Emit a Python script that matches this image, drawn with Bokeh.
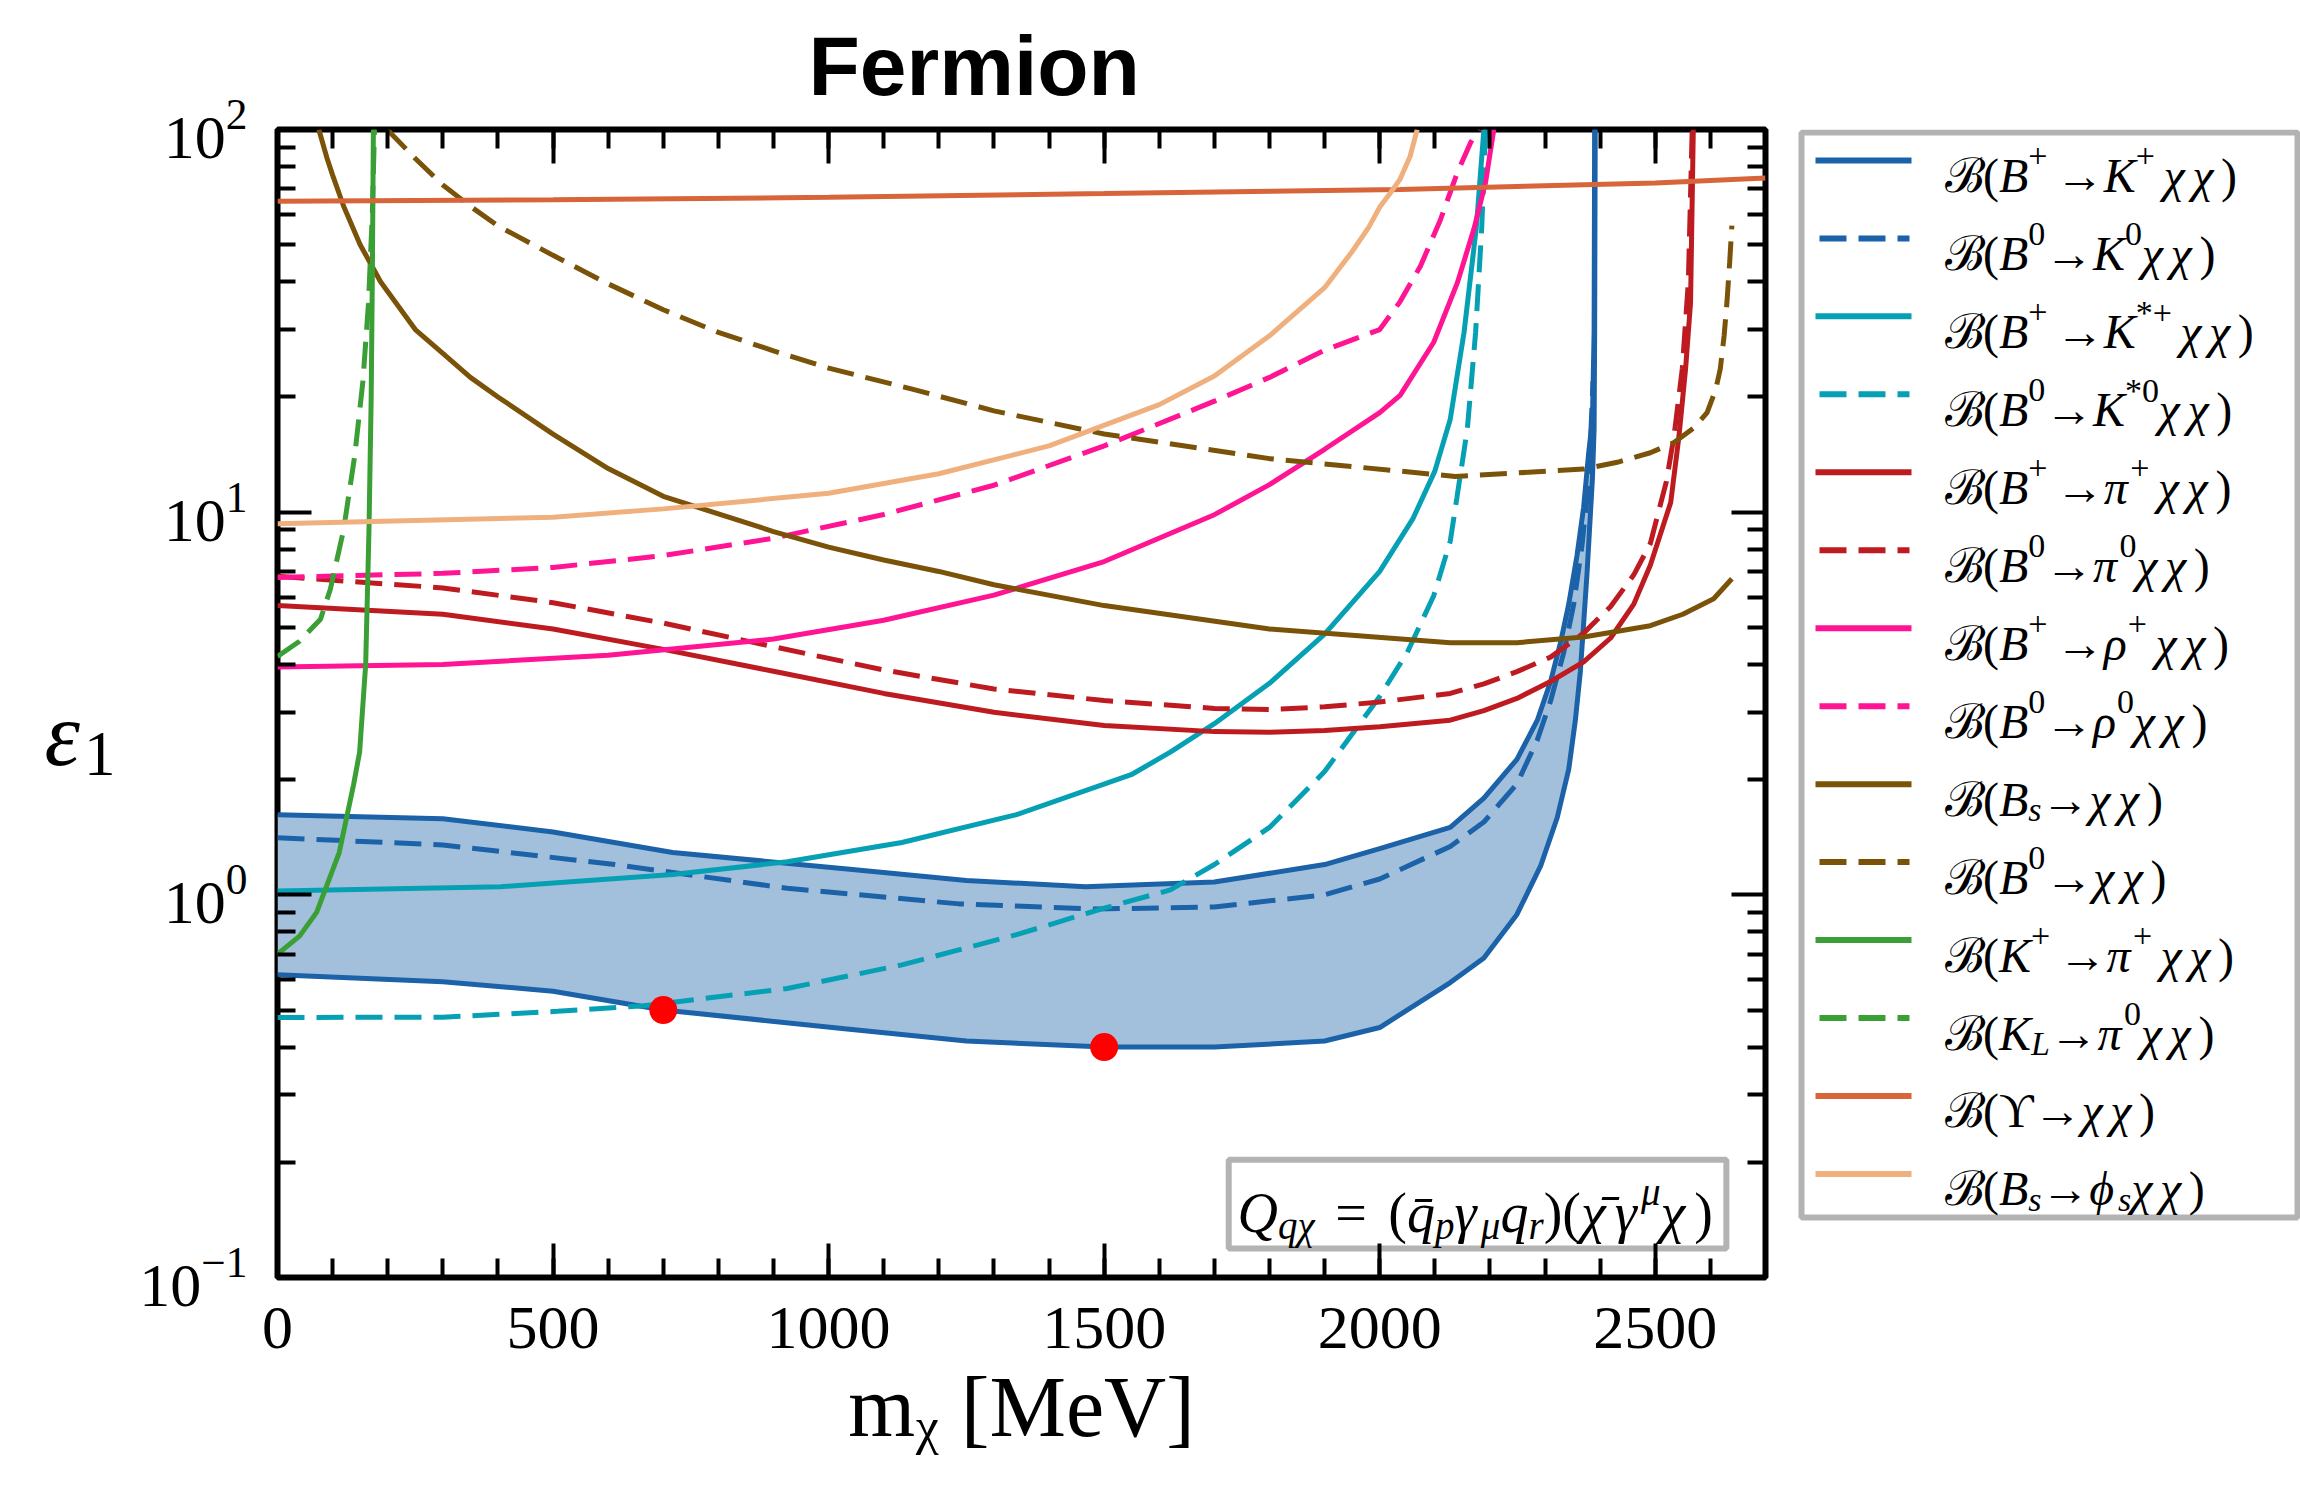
from bokeh.plotting import figure
from bokeh.models import (Range1d, FixedTicker, LinearAxis, LogAxis, ColumnDataSource)
from bokeh.layouts import row
from bokeh.embed import file_html
from bokeh.resources import INLINE
from bokeh.core.properties import value

# ---------------------------------------------------------------- data
# m_chi [MeV] vs epsilon_1 for each decay channel

# B+ -> K+ chi chi : allowed band (upper / lower edge)
bk_up_x = [0, 300, 500, 717, 1029, 1250, 1466, 1700, 1900, 2000, 2128, 2189, 2249, 2286, 2310,
           2328, 2343, 2358, 2370, 2379, 2386, 2389, 2390]
bk_up_y = [1.62, 1.58, 1.46, 1.29, 1.17, 1.09, 1.05, 1.08, 1.2, 1.32, 1.50, 1.79, 2.26, 2.86,
           3.61, 4.56, 5.75, 7.71, 10.3, 14.2, 17.5, 29.5, 100]
bk_lo_x = [0, 300, 500, 700, 1029, 1250, 1500, 1700, 1900, 2000, 2128, 2189, 2249, 2292, 2322,
           2343, 2355, 2364, 2370, 2376, 2381, 2386, 2389, 2390, 2391]
bk_lo_y = [0.618, 0.593, 0.56, 0.50, 0.447, 0.415, 0.40, 0.40, 0.415, 0.45, 0.59, 0.684, 0.889,
           1.19, 1.59, 2.13, 2.86, 3.83, 5.12, 6.86, 9.18, 12.3, 16.5, 29.5, 100]

# B0 -> K0 chi chi
bk0_x = [0, 300, 612, 925, 1237, 1484, 1700, 1900, 2000, 2128, 2189, 2249, 2286, 2310, 2334,
         2352, 2367, 2376, 2382, 2387]
bk0_y = [1.41, 1.35, 1.2, 1.04, 0.947, 0.918, 0.93, 1.0, 1.1, 1.338, 1.55, 1.95, 2.54, 3.21,
         4.3, 5.75, 8.17, 10.9, 14.7, 22]

# B+ -> K*+ chi chi
bks_x = [0, 405, 717, 925, 1133, 1341, 1549, 1620, 1700, 1800, 1900, 2000, 2060, 2100, 2128,
         2153, 2175, 2189]
bks_y = [1.024, 1.05, 1.13, 1.22, 1.37, 1.62, 2.06, 2.36, 2.8, 3.57, 4.8, 7.0, 9.6, 12.8, 17.5,
         29.5, 55, 100]

# B0 -> K*0 chi chi
bks0_x = [0, 300, 508, 664, 925, 1133, 1341, 1497, 1620, 1700, 1800, 1900, 2000, 2050, 2098,
          2128, 2140, 2159, 2174, 2185, 2192]
bks0_y = [0.478, 0.479, 0.496, 0.513, 0.569, 0.656, 0.787, 0.92, 1.03, 1.2, 1.5, 2.1, 3.3, 4.3,
          6.05, 8.4, 10.9, 16.5, 29.5, 55, 100]

# B+ -> pi+ chi chi
bpi_x = [0, 300, 500, 700, 900, 1100, 1300, 1500, 1700, 1800, 1900, 2000, 2128, 2189, 2249,
         2310, 2370, 2419, 2461, 2491, 2528, 2543, 2555, 2564, 2569]
bpi_y = [5.7, 5.41, 4.95, 4.38, 3.84, 3.36, 3.0, 2.77, 2.67, 2.66, 2.69, 2.75, 2.86, 3.03, 3.26,
         3.61, 4.06, 4.69, 5.75, 7.27, 10.6, 15.8, 23.7, 35.3, 100]

# B0 -> pi0 chi chi
bpi0_x = [0, 300, 500, 700, 900, 1100, 1300, 1500, 1700, 1800, 1900, 2000, 2128, 2189, 2249,
          2310, 2370, 2419, 2461, 2491, 2520, 2534, 2549, 2560, 2567]
bpi0_y = [6.8, 6.34, 5.8, 5.13, 4.45, 3.87, 3.45, 3.22, 3.07, 3.05, 3.1, 3.19, 3.36, 3.56, 3.83,
          4.18, 4.83, 5.67, 6.86, 8.28, 12, 15.8, 23.7, 40, 100]

# B+ -> rho+ chi chi
brho_x = [0, 300, 600, 900, 1100, 1300, 1500, 1700, 1800, 1900, 2000, 2037, 2098, 2141, 2171,
          2192, 2207]
brho_y = [3.94, 4.0, 4.23, 4.66, 5.22, 6.07, 7.43, 9.85, 11.8, 14.6, 18.2, 20.2, 27.8, 39.8, 55,
          72.7, 100]

# B0 -> rho0 chi chi
brho0_x = [0, 300, 500, 700, 900, 1100, 1300, 1500, 1700, 1800, 1900, 2000, 2037, 2074, 2110,
           2141, 2165, 2180]
brho0_y = [6.75, 6.92, 7.17, 7.7, 8.55, 9.86, 11.76, 14.9, 19.5, 22.5, 26.5, 30, 35.5, 44, 58,
           77.3, 92.5, 100]

# Bs -> chi chi
bs_x = [75, 90, 100, 120, 150, 187, 250, 300, 350, 400, 500, 600, 700, 800, 900, 1000, 1100,
        1200, 1300, 1500, 1800, 2128, 2249, 2370, 2491, 2550, 2606, 2639]
bs_y = [100, 84, 76, 63, 50, 40, 30, 26, 22.5, 20, 16, 13, 11, 9.9, 8.9, 8.1, 7.5, 7.0, 6.46,
        5.7, 4.95, 4.56, 4.56, 4.72, 5.05, 5.41, 5.94, 6.7]

# B0 -> chi chi
b0_x = [199, 250, 300, 350, 400, 500, 600, 700, 800, 900, 1000, 1150, 1300, 1500, 1800, 2137,
        2370, 2431, 2491, 2534, 2570, 2594, 2610, 2618, 2625, 2630, 2635, 2639]
b0_y = [100, 84, 71.6, 63, 56, 46.9, 39.5, 33.8, 29.5, 26.4, 23.8, 21, 18.4, 16, 13.8, 12.4,
        12.96, 13.5, 14.3, 15.2, 16.6, 18.2, 21, 23.7, 29, 35.3, 45, 56.1]

# K+ -> pi+ chi chi
kpi_x = [0, 40, 71, 112, 138, 149, 160, 166, 170, 172, 174]
kpi_y = [0.70, 0.78, 0.90, 1.29, 1.94, 2.36, 4.0, 9.0, 20, 40, 100]

# KL -> pi0 chi chi
klpi_x = [0, 40, 78, 96, 120, 140, 155, 165, 172, 176]
klpi_y = [4.2, 4.6, 5.25, 6.3, 9, 14, 22, 35, 60, 100]

# Upsilon -> chi chi
ups_x = [0, 500, 1000, 1500, 2037, 2500, 2700]
ups_y = [64.9, 65.5, 66.5, 68, 69.7, 72.5, 74.7]

# Bs -> phi_s chi chi
bsphi_x = [0, 500, 700, 1000, 1200, 1400, 1600, 1700, 1800, 1900, 1950, 1980, 2000, 2020, 2037,
           2055, 2068]
bsphi_y = [9.32, 9.7, 10.2, 11.2, 12.6, 14.9, 19.1, 22.7, 28.9, 38.6, 48, 55.5, 62.7, 68.5, 74.2,
           85, 100]

# benchmark points
bench_x = [700, 1500]
bench_y = [0.5, 0.4]

x_major = [0, 500, 1000, 1500, 2000, 2500]
x_minor = list(range(0, 2701, 100))
y_major = [0.1, 1, 10, 100]
y_minor = [m * d for d in (0.1, 1, 10) for m in range(2, 10)]

legend_labels = [
    "ℬ(B^{+}→K^{+}χχ)", "ℬ(B^{0}→K^{0}χχ)", "ℬ(B^{+}→K^{*+}χχ)", "ℬ(B^{0}→K^{*0}χχ)",
    "ℬ(B^{+}→π^{+}χχ)", "ℬ(B^{0}→π^{0}χχ)", "ℬ(B^{+}→ρ^{+}χχ)", "ℬ(B^{0}→ρ^{0}χχ)",
    "ℬ(B_{s}→χχ)", "ℬ(B^{0}→χχ)", "ℬ(K^{+}→π^{+}χχ)", "ℬ(K_{L}→π^{0}χχ)",
    "ℬ(ϒ→χχ)", "ℬ(B_{s}→ϕ_{s}χχ)",
]
operator_text = "Q_{qχ} = (q̄_{p}γ_{μ}q_{r})(χ̄γ^{μ}χ)"
x_title = "mᵪ [MeV]"
y_title = "ε_{1}"
title_text = "Fermion"

BLUE, TEAL, RED, PINK = "#1b62a8", "#06a0b5", "#be1b21", "#ff1493"
BROWN, GREEN, ORANGE, PEACH = "#7a5309", "#3a9f34", "#d8643a", "#f0b07e"
DASH = "27 12"

series = [
    (bk_lo_x, bk_lo_y, BLUE, "solid"),
    (bk0_x, bk0_y, BLUE, DASH),
    (bks_x, bks_y, TEAL, "solid"),
    (bks0_x, bks0_y, TEAL, DASH),
    (bpi_x, bpi_y, RED, "solid"),
    (bpi0_x, bpi0_y, RED, DASH),
    (brho_x, brho_y, PINK, "solid"),
    (brho0_x, brho0_y, PINK, DASH),
    (bs_x, bs_y, BROWN, "solid"),
    (b0_x, b0_y, BROWN, DASH),
    (kpi_x, kpi_y, GREEN, "solid"),
    (klpi_x, klpi_y, GREEN, DASH),
    (ups_x, ups_y, ORANGE, "solid"),
    (bsphi_x, bsphi_y, PEACH, "solid"),
]

# ---------------------------------------------------------------- rich text helper
SERIF = "Liberation Serif"
ITALIC = set("BKLsmqprQχπρϕγμε")
COMBINING = "\u0304"
W_UP = {"(": .333, ")": .333, "+": .564, "0": .5, "1": .5, "*": .5, "→": 1.0, "=": .7,
        "[": .333, "]": .333, " ": .25, "ϒ": .72, "ℬ": .80, "M": .889, "e": .444, "V": .722}
W_IT = {"B": .611, "K": .667, "L": .556, "s": .389, "m": .722, "q": .5, "p": .5, "r": .389,
        "Q": .722, "χ": .6, "π": .55, "ρ": .5, "ϕ": .6, "γ": .47, "μ": .5, "ε": .44}


def parse(markup):
    out, i = [], 0
    while i < len(markup):
        c = markup[i]
        if c in "^_" and i + 1 < len(markup) and markup[i + 1] == "{":
            j = markup.index("}", i)
            out.append([markup[i + 2:j], "sup" if c == "^" else "sub"])
            i = j + 1
        elif c in COMBINING and out:
            out[-1][0] += c
            i += 1
        else:
            out.append([c, "base"])
            i += 1
    return out


def layout(markup, size):
    """Split a label into runs of (text, dx, dy, font_px, style)."""
    pieces, x = [], 0.0
    for seg, level in parse(markup):
        fs = size if level == "base" else 0.7 * size
        dy = {"base": 0.0, "sup": -0.40 * size, "sub": 0.22 * size}[level]
        cur, cur_style, cur_x = "", "normal", x
        for ch in seg:
            if ch in COMBINING:
                cur += ch
                continue
            style = "italic" if ch in ITALIC else "normal"
            if cur and style != cur_style:
                pieces.append((cur, cur_x, dy, fs, cur_style))
                cur = ""
            if not cur:
                cur_x = x
            cur += ch
            cur_style = style
            x += (W_IT if style == "italic" else W_UP).get(ch, 0.5) * fs
        if cur:
            pieces.append((cur, cur_x, dy, fs, cur_style))
        if level == "sup" and "+" in seg:
            x += 0.18 * size
    return pieces, x


def draw_rich(fig, items):
    """items: list of (markup, x, y, size); one text glyph per font style."""
    cols = {st: dict(x=[], y=[], text=[], dx=[], dy=[], size=[]) for st in ("normal", "italic")}
    for markup, x0, y0, size in items:
        pieces, _ = layout(markup, size)
        for txt, dx, dy, fs, st in pieces:
            d = cols[st]
            d["x"].append(x0)
            d["y"].append(y0)
            d["text"].append(txt)
            d["dx"].append(round(dx, 1))
            d["dy"].append(round(dy, 1))
            d["size"].append(f"{int(round(fs))}px")
    for st, d in cols.items():
        if d["x"]:
            fig.text(x="x", y="y", text="text", x_offset="dx", y_offset="dy",
                     text_font_size="size", text_font_style=st, text_font=value(SERIF),
                     text_baseline="alphabetic", text_align="left", text_color="black",
                     source=ColumnDataSource(d))


FRAME_TOP, FRAME_BOTTOM, LEFT_W, LEG_W = 127, 1277, 125, 510


def side_panel(width):
    """Axis-free figure beside the plot whose data coordinates are page pixels."""
    f = figure(width=width, height=1487, x_range=Range1d(0, width),
               y_range=Range1d(FRAME_BOTTOM, FRAME_TOP), output_backend="svg",
               toolbar_location=None, title=None, min_border_left=0, min_border_right=0,
               min_border_top=FRAME_TOP, min_border_bottom=1487 - FRAME_BOTTOM,
               x_axis_location=None, y_axis_location=None, outline_line_color=None,
               background_fill_color="white", border_fill_color="white")
    f.grid.visible = False
    return f


# ---------------------------------------------------------------- main plot
p = figure(width=1790 - LEFT_W, height=1487, x_range=Range1d(0, 2700),
           y_range=Range1d(0.1, 100), y_axis_type="log", output_backend="svg",
           toolbar_location=None, min_border_left=277 - LEFT_W, min_border_right=25,
           min_border_top=FRAME_TOP, min_border_bottom=1487 - FRAME_BOTTOM,
           background_fill_color="white", border_fill_color="white")
p.grid.visible = False
p.outline_line_color = "black"
p.outline_line_width = 6
p.outline_line_alpha = 1

p.title.text = title_text
p.title.text_font = "Liberation Sans"
p.title.text_font_style = "bold"
p.title.text_font_size = "84px"
p.title.text_color = "black"
p.title.align = "left"
p.title.offset = 531
p.title.standoff = 33

bottom_axis = p.below[0]
left_axis = p.left[0]
bottom_axis.ticker = FixedTicker(ticks=x_major, minor_ticks=x_minor)
left_axis.ticker = FixedTicker(ticks=y_major, minor_ticks=y_minor)
top_axis = LinearAxis(ticker=FixedTicker(ticks=x_major, minor_ticks=x_minor),
                      major_label_overrides={t: "" for t in x_major})
right_axis = LogAxis(ticker=FixedTicker(ticks=y_major, minor_ticks=y_minor),
                     major_label_overrides={t: "" for t in y_major})
p.add_layout(top_axis, "above")
p.add_layout(right_axis, "right")

for ax in (bottom_axis, left_axis, top_axis, right_axis):
    ax.axis_line_color = None
    ax.major_tick_out = 0
    ax.minor_tick_out = 0
    ax.major_tick_line_width = 4
    ax.minor_tick_line_width = 4
    ax.major_tick_line_color = "black"
    ax.minor_tick_line_color = "black"
    ax.major_label_text_font = SERIF
    ax.major_label_text_color = "black"
    ax.major_label_text_font_size = "62px"
    ax.major_tick_in = 34
    ax.minor_tick_in = 19 if ax in (bottom_axis, top_axis) else 18
top_axis.major_label_standoff = 0
top_axis.major_label_text_font_size = "2px"
right_axis.major_label_standoff = 0
right_axis.major_label_text_font_size = "2px"
bottom_axis.major_label_standoff = 30
left_axis.major_label_standoff = 30

bottom_axis.axis_label = x_title
bottom_axis.axis_label_text_font = SERIF
bottom_axis.axis_label_text_font_style = "normal"
bottom_axis.axis_label_text_font_size = "86px"
bottom_axis.axis_label_text_color = "black"
bottom_axis.axis_label_standoff = 8

# allowed band for B+ -> K+ chi chi
p.patch(bk_up_x + bk_lo_x[::-1], bk_up_y + bk_lo_y[::-1], fill_color="#a2c0dc",
        line_color=None)
p.line(bk_up_x, bk_up_y, line_color=BLUE, line_width=5)
for xs, ys, col, dash in series:
    p.line(xs, ys, line_color=col, line_width=5, line_dash=dash)
p.scatter(bench_x, bench_y, size=28, fill_color="#ff0000", line_color=None)

# operator box
p.quad(left=[1726], right=[2629], bottom=[0.119], top=[0.203], fill_color="white",
       line_color="#b3b3b3", line_width=6)
draw_rich(p, [(operator_text, 1742, 0.147, 56)])

# ---------------------------------------------------------------- y title panel
ypanel = side_panel(LEFT_W)
draw_rich(ypanel, [(y_title, 44, 733, 90)])

# ---------------------------------------------------------------- legend panel
leg = side_panel(LEG_W)
leg.quad(left=[11], right=[507], top=[130], bottom=[1217], fill_color="white",
         line_color="#b3b3b3", line_width=6)
row0, step = 158.0, 78.1
items = []
for i, ((_, _, col, dash), lab) in enumerate(zip(series, legend_labels)):
    yy = row0 + i * step
    if dash == "solid":
        leg.line([25, 121], [yy, yy], line_color=col, line_width=6)
    else:
        leg.line([29, 119], [yy, yy], line_color=col, line_width=6, line_dash=dash)
    items.append((lab, 154, yy + 15, 48))
draw_rich(leg, items)

page = row(ypanel, p, leg)
open("out.html", "w").write(file_html(page, INLINE))
